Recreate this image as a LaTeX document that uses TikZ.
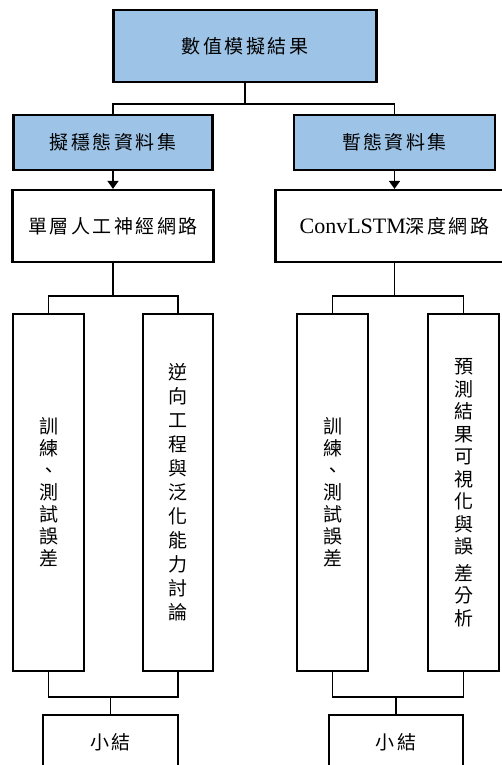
\documentclass[tikz,border=0pt]{standalone}
\usepackage{fontspec}
\usetikzlibrary{arrows.meta}
\newfontfamily\cjk[LetterSpace=13]{Noto Sans CJK TC}
\newfontfamily\cjkcol{Noto Sans CJK TC}
\newfontfamily\latn{Liberation Serif}
\definecolor{boxblue}{HTML}{9DC3E6}
\newcommand{\boxline}{2.2pt}
\newcommand{\treeline}{1.4pt}

\begin{document}
\begin{tikzpicture}[x=1pt,y=-1pt,
    box/.style={draw=black, line width=\boxline, fill=white, inner sep=0pt,
                font=\cjk\fontsize{19}{22}\selectfont},
    databox/.style={box, fill=boxblue},
    tallbox/.style={box, minimum width=71pt, minimum height=357pt, align=center,
                    font=\cjkcol\fontsize{19}{#1}\selectfont},
    tallbox/.default=22,
    tree/.style={line width=\treeline},
    feed/.style={line width=1.6pt, -{Triangle[width=11pt,length=8pt]}}]

        \useasboundingbox (0,0) rectangle (502,765);

        % top level and the two data sets
        \node[databox, minimum width=263pt, minimum height=72pt] (title) at (245,46) {數值模擬結果};
        \node[databox, minimum width=199pt, minimum height=55pt] (ds1) at (113,142.5) {擬穩態資料集};
        \node[databox, minimum width=201pt, minimum height=55pt] (ds2) at (394.5,142.5) {暫態資料集};

        % networks
        \node[box, minimum width=201pt, minimum height=72pt] (net1) at (113,226) {單層人工神經網路};
        \node[box, minimum width=238pt, minimum height=72pt] (net2) at (394.5,226) {{\latn\fontsize{22}{24}\selectfont ConvLSTM}深度網路};

        % tall columns
        \node[tallbox] (t1) at (48.5,492.5) {訓\\練\\、\\測\\試\\誤\\差};
        \node[tallbox=24, minimum width=70pt] (t2) at (178,492.5) {逆\\向\\工\\程\\與\\泛\\化\\能\\力\\討\\論};
        \node[tallbox] (t3) at (332.5,492.5) {訓\\練\\、\\測\\試\\誤\\差};
        \node[tallbox=22.5] (t4) at (463.5,492.5) {預\\測\\結\\果\\可\\視\\化\\與\\誤\\[4pt]差\\分\\析};

        % summaries
        \node[box, minimum width=135pt, minimum height=54pt] (s1) at (110.5,742) {小結};
        \node[box, minimum width=134pt, minimum height=54pt] (s2) at (396,742) {小結};

        % connectors
        \draw[tree] (title.south) -- ++(0,21) -| (ds1.north);
        \draw[tree] (title.south) -- ++(0,21) -| (ds2.north);
        \draw[feed] (ds1.south) -- (net1.north);
        \draw[feed] (ds2.south) -- (net2.north);

        \draw[tree] (net1.south) -- ++(0,33) -| (t1.north);
        \draw[tree] (net1.south) -- ++(0,33) -| (t2.north);
        \draw[tree] (net2.south) -- ++(0,33) -| (t3.north);
        \draw[tree] (net2.south) -- ++(0,33) -| (t4.north);

        \draw[tree] (t1.south) -- ++(0,25) -| (s1.north);
        \draw[tree] (t2.south) -- ++(0,25) -| (s1.north);
        \draw[tree] (t3.south) -- ++(0,25) -| (s2.north);
        \draw[tree] (t4.south) -- ++(0,25) -| (s2.north);
    \end{tikzpicture}
\end{document}
